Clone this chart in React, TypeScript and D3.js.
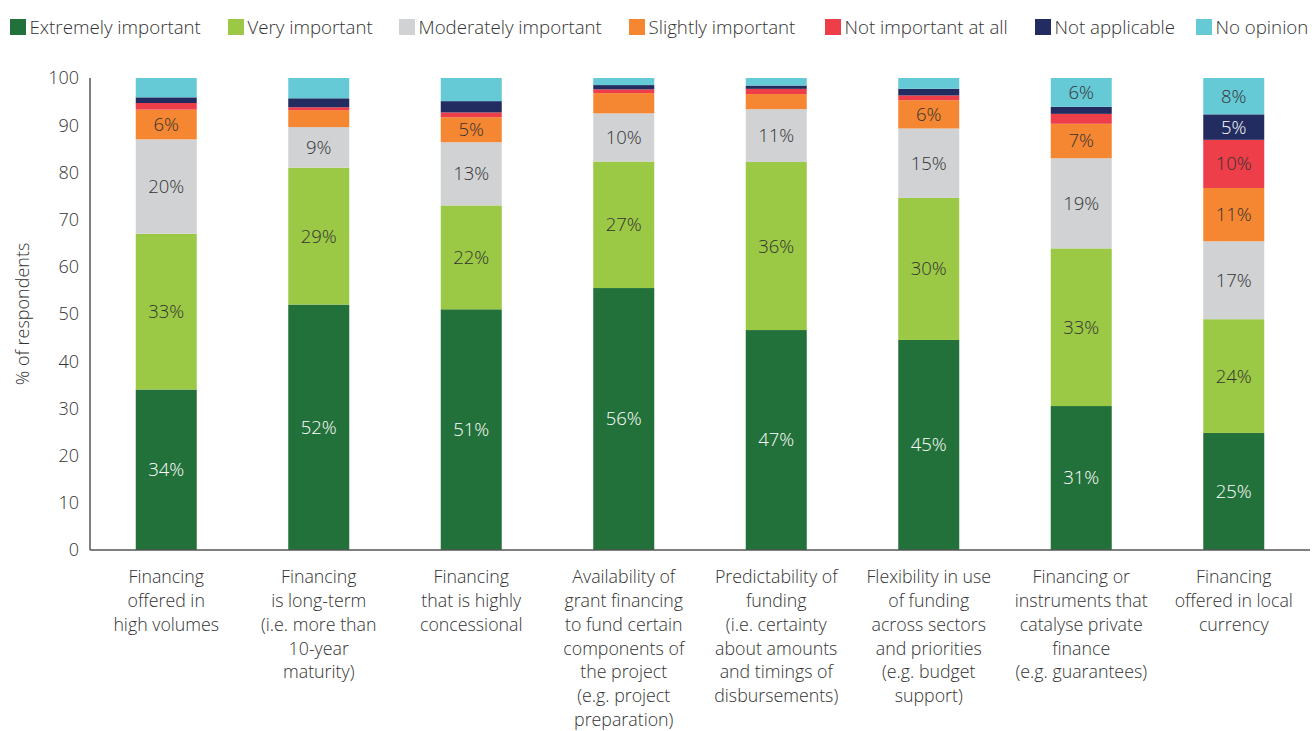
import React from "react";
import * as d3 from "d3";

const categories: string[][] = [
  ["Financing", "offered in", "high volumes"],
  ["Financing", "is long-term", "(i.e. more than", "10-year", "maturity)"],
  ["Financing", "that is highly", "concessional"],
  ["Availability of", "grant financing", "to fund certain", "components of", "the project", "(e.g. project", "preparation)"],
  ["Predictability of", "funding", "(i.e. certainty", "about amounts", "and timings of", "disbursements)"],
  ["Flexibility in use", "of funding", "across sectors", "and priorities", "(e.g. budget", "support)"],
  ["Financing or", "instruments that", "catalyse private", "finance", "(e.g. guarantees)"],
  ["Financing", "offered in local", "currency"],
];

const seriesNames = [
  "Extremely important",
  "Very important",
  "Moderately important",
  "Slightly important",
  "Not important at all",
  "Not applicable",
  "No opinion",
];

const extremely = [34, 52, 51, 55.5, 46.6, 44.5, 30.5, 24.8];
const very = [33, 29, 22, 26.8, 35.6, 30.1, 33.4, 24.1];
const moderately = [20, 8.6, 13.4, 10.2, 11.2, 14.7, 19.1, 16.5];
const slightly = [6.3, 3.6, 5.3, 4.3, 3.2, 6.0, 7.3, 11.3];
const notImportant = [1.4, 0.6, 1.0, 0.8, 1.1, 1.0, 2.1, 10.2];
const notApplicable = [1.2, 1.9, 2.4, 0.9, 0.7, 1.4, 1.5, 5.4];
const noOpinion = [4.1, 4.3, 4.9, 1.5, 1.6, 2.3, 6.1, 7.7];

const yTicks = [0, 10, 20, 30, 40, 50, 60, 70, 80, 90, 100];

const colors = ["#23713a", "#9bc945", "#d1d2d4", "#f58732", "#ee3e4a", "#222c60", "#66c9d6"];
const labelColors = ["#ffffff", "#333333", "#333333", "#333333", "#333333", "#ffffff", "#333333"];

const legendX = [10, 228, 399, 629, 825, 1035, 1196];

const FONT = "'Open Sans', Lato, sans-serif";

export default function App() {
  const seriesValues = [extremely, very, moderately, slightly, notImportant, notApplicable, noOpinion];
  const rows = categories.map((_, i) => {
    const r: Record<string, number> = { idx: i };
    seriesNames.forEach((s, k) => (r[s] = seriesValues[k][i]));
    return r;
  });
  const stacked = d3.stack<Record<string, number>>().keys(seriesNames)(rows);

  const left = 90, right = 1310, top = 78, bottom = 550;
  const x = d3.scaleBand<number>().domain(d3.range(categories.length)).range([left, right]).paddingInner(0.6).paddingOuter(0.3);
  const y = d3.scaleLinear().domain([0, 100]).range([bottom, top]);

  return (
    <svg width={1312} height={731} style={{ position: "absolute", left: 0, top: 0 }} fontFamily={FONT} fontWeight={300}>
      <rect width={1312} height={731} fill="#fff" />
      {/* legend */}
      {seriesNames.map((s, k) => (
        <g key={s}>
          <rect x={legendX[k]} y={19} width={16} height={16} fill={colors[k]} />
          <text x={legendX[k] + 19.5} y={27.5} dy="0.35em" fontSize={18.7} fill="#333">{s}</text>
        </g>
      ))}
      {/* bars */}
      {stacked.map((layer, k) => (
        <g key={layer.key}>
          {layer.map((d, i) => {
            const v = d[1] - d[0];
            const bx = x(i)!;
            const y0 = y(d[0]);
            const y1 = y(d[1]);
            return (
              <g key={i}>
                <rect x={bx} y={y1} width={x.bandwidth()} height={y0 - y1} fill={colors[k]} />
                {v >= 5 && (
                  <text x={bx + x.bandwidth() / 2} y={(y0 + y1) / 2} dy="0.35em" textAnchor="middle" fontSize={18.5} fill={labelColors[k]}>
                    {Math.round(v)}%
                  </text>
                )}
              </g>
            );
          })}
        </g>
      ))}
      {/* axes */}
      <line x1={left} x2={left} y1={top} y2={bottom} stroke="#555" strokeWidth={1.5} />
      <line x1={left} x2={right} y1={bottom} y2={bottom} stroke="#555" strokeWidth={1.5} />
      {yTicks.map((t) => (
        <text key={t} x={79} y={y(t)} dy="0.35em" textAnchor="end" fontSize={18} fill="#333">{t}</text>
      ))}
      <text transform={`translate(23,${(top + bottom) / 2}) rotate(-90)`} textAnchor="middle" dy="0.35em" fontSize={18} fill="#333">% of respondents</text>
      {categories.map((lines, i) => (
        <text key={i} textAnchor="middle" fontSize={17.8} fill="#333">
          {lines.map((l, j) => (
            <tspan key={j} x={x(i)! + x.bandwidth() / 2} y={577 + j * 23.9} dy="0.33em">{l}</tspan>
          ))}
        </text>
      ))}
    </svg>
  );
}
